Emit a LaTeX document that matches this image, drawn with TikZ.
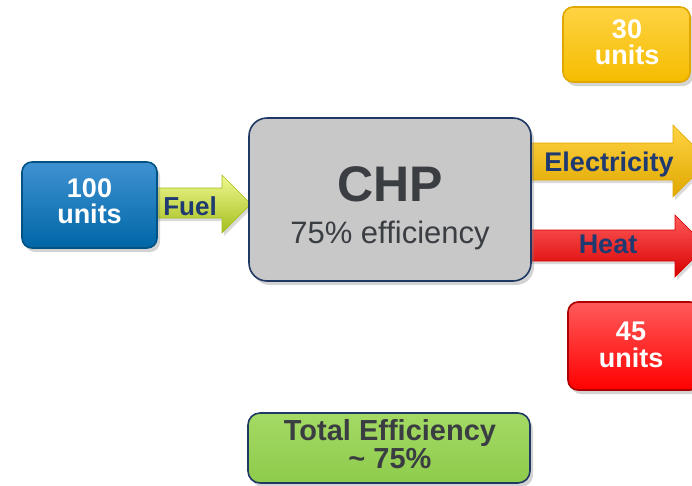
\documentclass[tikz,border=0pt]{standalone}
\usepackage{fontspec}
\setmainfont{Liberation Sans}
\usetikzlibrary{shadows}
\definecolor{navy}{HTML}{1F3864}
\definecolor{txtnavy}{HTML}{1F3A70}
\definecolor{dgray}{HTML}{3A3D42}
\definecolor{chpgray}{HTML}{C8C8C8}
\definecolor{bluetop}{HTML}{3F92D2}
\definecolor{bluebot}{HTML}{0066A6}
\definecolor{yeltop}{HTML}{FFD343}
\definecolor{yelmid}{HTML}{F5BC00}
\definecolor{yelbot}{HTML}{E0A800}
\definecolor{redtop}{HTML}{FF5A5A}
\definecolor{redmid}{HTML}{FF0000}
\definecolor{redbot}{HTML}{D80000}
\definecolor{grntop}{HTML}{A4DA64}
\definecolor{grnbot}{HTML}{8ECB4C}
\definecolor{limetop}{HTML}{F0F890}
\definecolor{limemid}{HTML}{C8E236}
\definecolor{limebot}{HTML}{A4BE1E}
\tikzset{
  box/.style={rounded corners=#1, draw, line width=1.6pt,
    drop shadow={opacity=0.35, shadow xshift=3pt, shadow yshift=-4pt}},
  whitetxt/.style={anchor=base, inner sep=0pt, text=white, font=\bfseries\fontsize{27}{27}\selectfont},
  navytxt/.style={anchor=base, inner sep=0pt, text=txtnavy, font=\bfseries\fontsize{26}{26}\selectfont},
  arrowshape/.style={draw=#1, line width=0.6pt,
    drop shadow={opacity=0.3, shadow xshift=2pt, shadow yshift=-3pt}}
}
\begin{document}
\begin{tikzpicture}[x=1pt,y=-1pt]
\useasboundingbox (0,0) rectangle (692,485);
\clip (0,0) rectangle (692,485);

% arrows
\shade[arrowshape=limebot, top color=limetop, middle color=limemid, bottom color=limebot]
  (150,188) -- (222,188) -- (222,175) -- (251,204) -- (222,233) -- (222,218) -- (150,218) -- cycle;
\shade[arrowshape=yelbot, top color=yeltop, middle color=yelmid, bottom color=yelbot]
  (520,143) -- (673,143) -- (673,125) -- (709,161) -- (673,197) -- (673,180) -- (520,180) -- cycle;
\shade[arrowshape=redbot, top color=redtop, middle color=redmid, bottom color=redbot]
  (520,230) -- (675,230) -- (675,215) -- (706,246) -- (675,277) -- (675,261) -- (520,261) -- cycle;

% boxes
\node[box=10, draw=bluebot!80!black, top color=bluetop, bottom color=bluebot,
  minimum width=135pt, minimum height=86pt] (src) at (89.5,205) {};
\node[box=18, draw=navy, fill=chpgray,
  minimum width=282pt, minimum height=163pt] (chp) at (390,199.5) {};
\node[box=12, draw=navy, top color=grntop, bottom color=grnbot,
  minimum width=282pt, minimum height=70pt] (tot) at (389,448) {};
\node[box=10, draw=yelbot, top color=yeltop, bottom color=yelmid,
  minimum width=127pt, minimum height=75pt] (elecbox) at (626.5,44.5) {};
\node[box=10, draw=redbot!80!black, top color=redtop, bottom color=redmid,
  minimum width=132pt, minimum height=88pt] (heatbox) at (634,346) {};

% texts
\node[whitetxt] (s1) at (89.5,197) {100};
\node[whitetxt] (s2) at (89.5,223) {units};
\node[whitetxt] (e1) at (627,38) {30};
\node[whitetxt] (e2) at (627,64) {units};
\node[whitetxt] (h1) at (631,340) {45};
\node[whitetxt] (h2) at (631,367) {units};

\node[navytxt] (fuel) at (190,215) {Fuel};
\node[navytxt, font=\bfseries\fontsize{27}{27}\selectfont] (elec) at (609,171) {Electricity};
\node[navytxt, font=\bfseries\fontsize{27}{27}\selectfont] (heat) at (608,253) {Heat};

\node[anchor=base, inner sep=0pt, text=dgray, font=\bfseries\fontsize{50}{50}\selectfont] (chpt) at (390,201.5) {CHP};
\node[anchor=base, inner sep=0pt, text=dgray, font=\fontsize{31}{31}\selectfont] (chpe) at (390,243.5) {75\% efficiency};

\node[anchor=base, inner sep=0pt, text=dgray, align=center,
  font=\bfseries\fontsize{29}{25}\selectfont] (totaltxt) at (390,468) {Total Efficiency\\\char`\~{} 75\%};
\end{tikzpicture}
\end{document}
